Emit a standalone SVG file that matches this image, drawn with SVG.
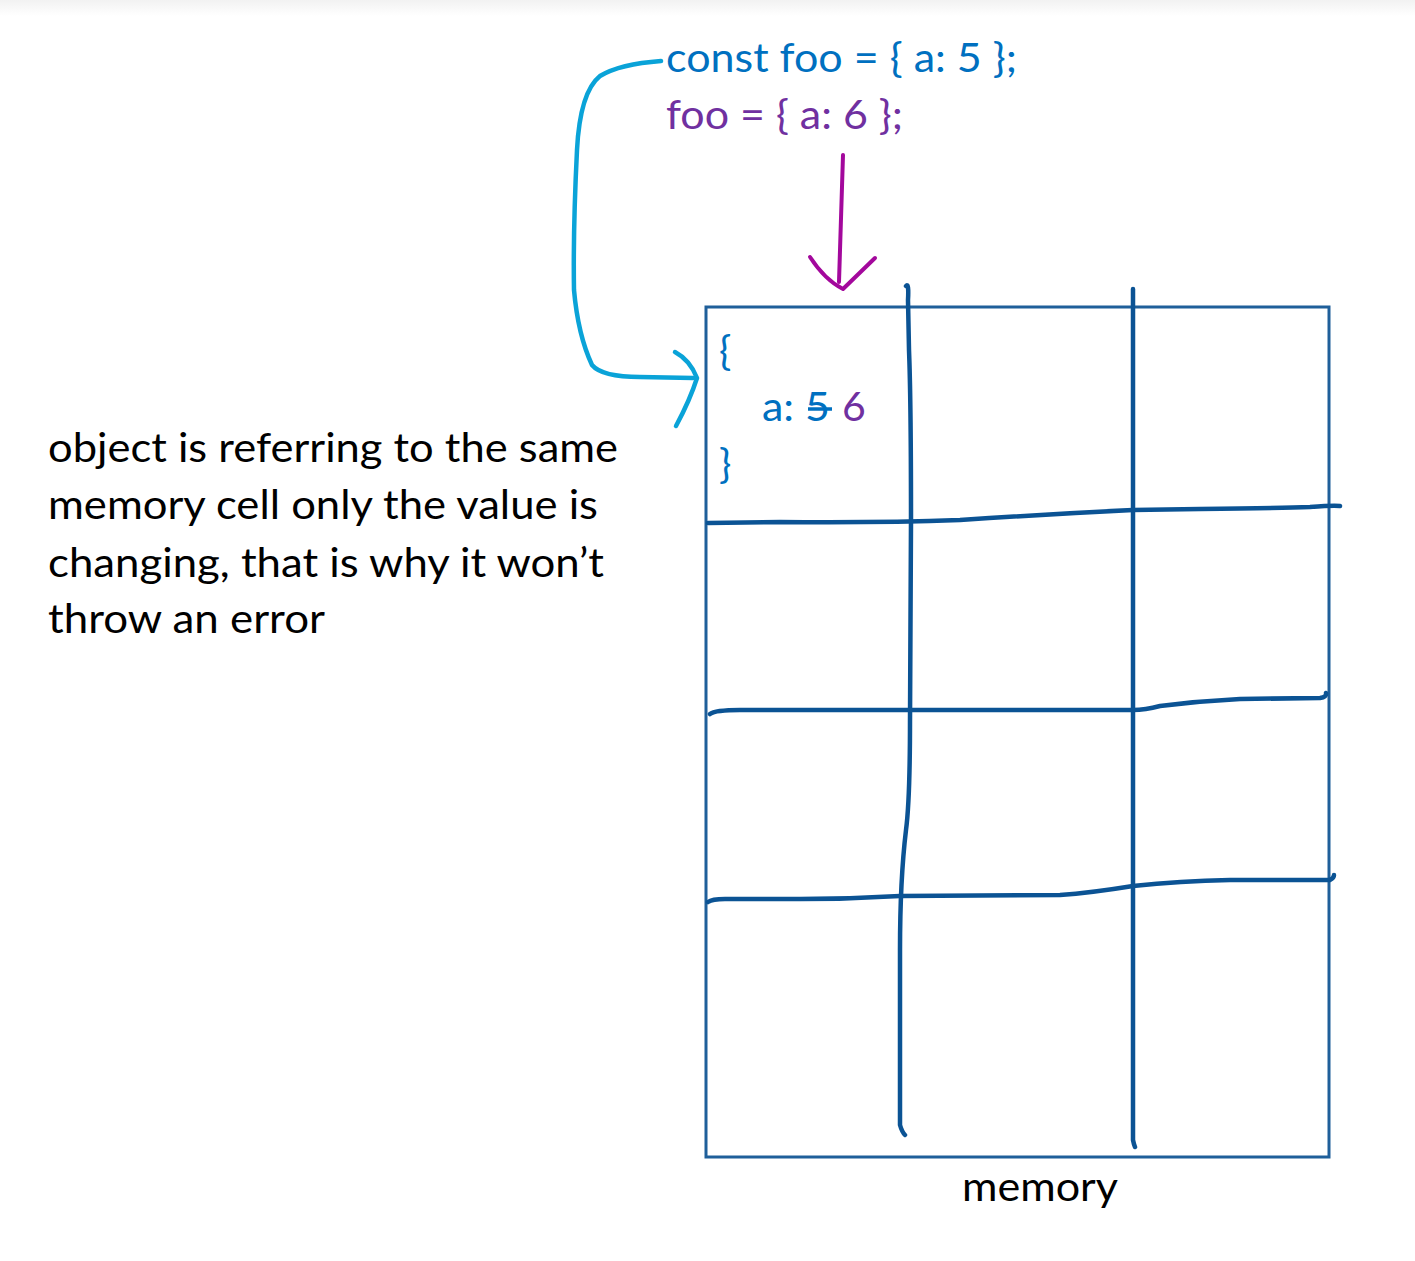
<svg xmlns="http://www.w3.org/2000/svg" width="1415" height="1261" viewBox="0 0 1415 1261">
<defs>
<linearGradient id="topfade" x1="0" y1="0" x2="0" y2="1">
<stop offset="0" stop-color="#f2f2f2"/>
<stop offset="1" stop-color="#ffffff"/>
</linearGradient>
<style>
.t{font-family:Lato,"Open Sans","Liberation Sans",sans-serif;font-size:41px}
.blue{fill:#0070C0}
.purple{fill:#7030A0}
.black{fill:#000}
.grid{fill:none;stroke:#0B5394;stroke-width:4.5;stroke-linecap:round;stroke-linejoin:round}
.box{fill:none;stroke:#1F5F9A;stroke-width:3}
.cyan{fill:none;stroke:#0AA3D8;stroke-width:4.5;stroke-linecap:round;stroke-linejoin:round}
.mag{fill:none;stroke:#A3089C;stroke-width:4;stroke-linecap:round;stroke-linejoin:round}
</style>
</defs>
<rect x="0" y="0" width="1415" height="16" fill="url(#topfade)"/>
<g id="code">
<text class="t blue" x="666" y="72" textLength="351" lengthAdjust="spacingAndGlyphs">const foo = { a: 5 };</text>
<text class="t purple" x="666" y="129" textLength="237" lengthAdjust="spacingAndGlyphs">foo = { a: 6 };</text>
</g>
<g id="memory">
<rect class="box" x="706" y="307" width="623" height="850"/>
<path class="grid" d="M906,286 Q909,282 908,300 L909,350 Q911,400 911,520 L910,720 Q910,800 906,830 Q900,880 900,950 L900,1125 Q902,1132 905,1135"/>
<path class="grid" d="M1133,289 L1133,1140 Q1134,1145 1135,1147"/>
<path class="grid" d="M708,523 L780,522 Q880,523 960,520 Q1050,514 1133,510 L1200,509 Q1280,508 1310,507 Q1335,505 1340,506"/>
<path class="grid" d="M710,714 Q715,710 740,710 L1133,710 Q1145,710 1160,706 Q1200,701 1240,699 L1320,698 Q1327,697 1326,693"/>
<path class="grid" d="M708,902 Q712,899 725,899 L800,899 Q850,899 900,896 L1060,895 Q1090,893 1133,886 Q1180,881 1230,880 L1330,880 Q1334,878 1334,875"/>
<text class="t blue" x="719" y="365">{</text>
<text class="t blue" x="762" y="421" textLength="68" lengthAdjust="spacingAndGlyphs">a: 5</text>
<path d="M808,409 L832,409" stroke="#0070C0" stroke-width="3.5" fill="none"/>
<text class="t purple" x="842" y="421">6</text>
<text class="t blue" x="719" y="478">}</text>
<text class="t black" x="962" y="1201" textLength="156" lengthAdjust="spacingAndGlyphs">memory</text>
</g>
<g id="note">
<text class="t black" x="48" y="462" textLength="570" lengthAdjust="spacingAndGlyphs">object is referring to the same</text>
<text class="t black" x="48" y="519" textLength="550" lengthAdjust="spacingAndGlyphs">memory cell only the value is</text>
<text class="t black" x="48" y="577" textLength="556" lengthAdjust="spacingAndGlyphs">changing, that is why it won’t</text>
<text class="t black" x="48" y="633" textLength="277" lengthAdjust="spacingAndGlyphs">throw an error</text>
</g>
<g id="connectors">
<path class="cyan" d="M661,61 Q620,64 600,76 Q580,92 577,150 Q573,230 574,290 Q578,335 592,365 Q602,377 640,377 L693,378"/>
<path class="cyan" d="M675,352 Q690,360 697,378 Q690,400 676,426"/>
<path class="mag" d="M843,155 L839,282"/>
<path class="mag" d="M810,257 Q825,280 843,289 L875,258"/>
</g>
</svg>
